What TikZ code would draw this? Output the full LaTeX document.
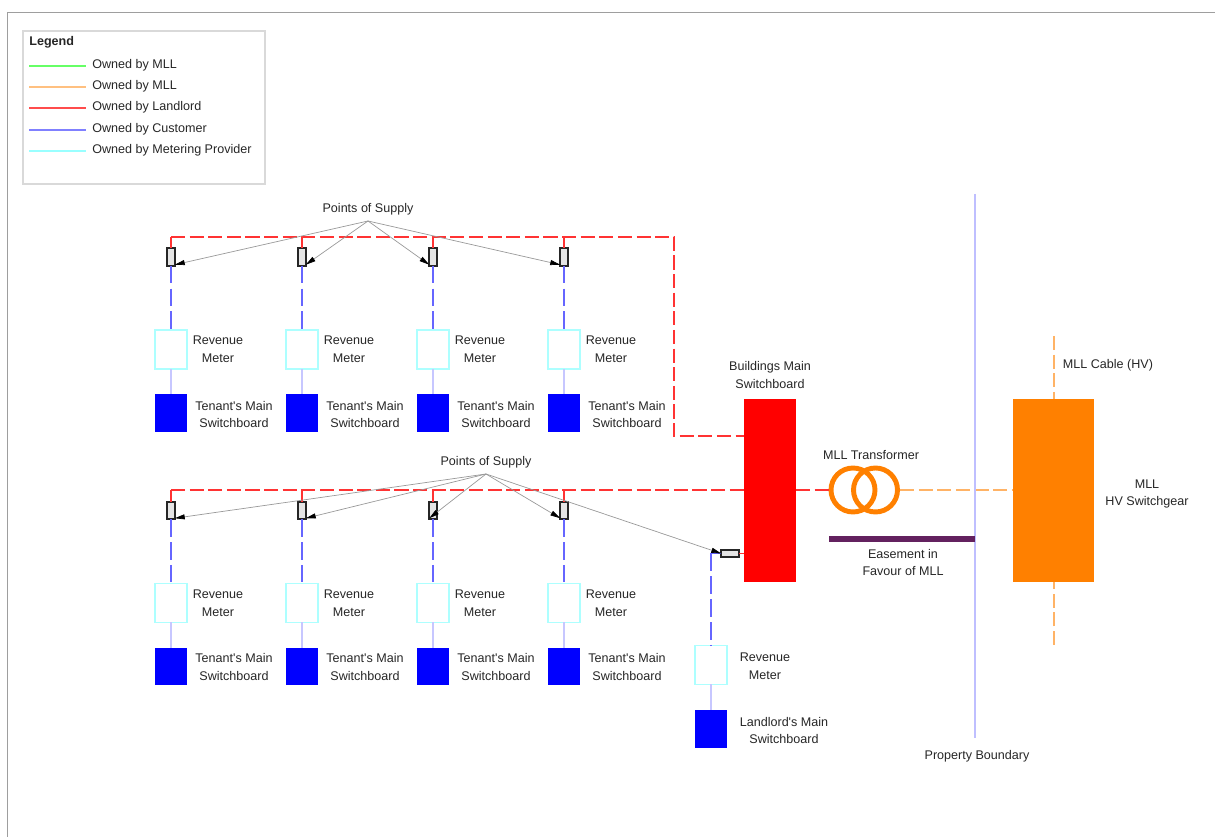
\documentclass[tikz,border=0pt]{standalone}
\usepackage{fontspec}
\setmainfont{Liberation Sans}
\usetikzlibrary{arrows.meta, calc}

\definecolor{hvorange}{HTML}{FF8000}
\definecolor{easepurple}{HTML}{63215F}
\definecolor{meterline}{HTML}{99FFFF}
\definecolor{mllgreen}{HTML}{66FF66}
\tikzset{
  txt/.style={align=center, inner sep=0pt, text=black!85, font=\fontsize{7.15}{10.2}\selectfont},
  meterbox/.style={draw=meterline!80, line width=0.6pt, fill=white, minimum width=0.64cm, minimum height=0.78cm, inner sep=0pt, outer sep=0pt},
  tenantbox/.style={fill=blue, minimum width=0.64cm, minimum height=0.76cm, inner sep=0pt, outer sep=0pt},
  switchv/.style={draw=black!85, line width=0.9pt, fill=black!10, minimum width=0.15cm, minimum height=0.35cm, inner sep=0pt, outer sep=0pt},
  switchh/.style={draw=black!85, line width=0.9pt, fill=black!10, minimum width=0.35cm, minimum height=0.15cm, inner sep=0pt, outer sep=0pt},
  redline/.style={draw=red!80, line width=0.6pt},
  reddash/.style={redline, dash pattern=on 8pt off 2.6pt},
  bluedash/.style={draw=blue!60, line width=0.9pt, dash pattern=on 10pt off 3pt},
  blueline/.style={draw=blue!22, line width=1pt},
  orangedash/.style={draw=hvorange!60, line width=0.7pt, dash pattern=on 8pt off 2.6pt},
  leader/.style={draw=black!40, line width=0.4pt, -{Triangle[black, length=0.2cm, width=0.1cm]}},
}

\begin{document}
\begin{tikzpicture}[x=0.02cm, y=-0.02cm]
  \useasboundingbox (0,0) rectangle (1215,837);
  % page frame
  \draw[black!38, line width=0.6pt] (7.5,837) -- (7.5,12.5) -- (1215,12.5);

  % Legend
  \node[draw=black!15, line width=0.8pt, minimum width=4.84cm, minimum height=3.06cm, outer sep=0pt] (legendbox) at (144,107.5) {};
  \node[txt, anchor=west, font=\fontsize{7.15}{10.2}\selectfont\bfseries] (legendtitle) at (29,42) {Legend};
  \foreach \n/\yy/\ly/\lbl/\col/\lw in {1/65/66/Owned by MLL/mllgreen/0.8pt, 2/86/87/Owned by MLL/hvorange!50/0.6pt, 3/107.5/108/Owned by Landlord/red!70/0.6pt, 4/129/130/Owned by Customer/blue!50/0.8pt, 5/150/151/Owned by Metering Provider/meterline/0.7pt} {
    \coordinate (legstart\n) at (29,\ly);
    \node[txt, anchor=west, inner xsep=0.12cm] (legtext\n) at (86,\yy) {\lbl};
    \draw[\col, line width=\lw] (legstart\n) -- (legstart\n -| legtext\n.west);
  }

  % Main switchboard and HV side
  \node[fill=red, minimum width=1.04cm, minimum height=3.66cm, inner sep=0pt, outer sep=0pt] (mainsb) at (770,490.5) {};
  \node[txt] (mainsblabel) at (770,375) {Buildings Main\\Switchboard};
  \node[fill=hvorange, minimum width=1.62cm, minimum height=3.66cm, inner sep=0pt, outer sep=0pt] (hvgear) at (1053.5,490.5) {};
  \node[txt] (hvgearlabel) at (1147,494) {MLL\\HV Switchgear};
  \node[txt] (cablelabel) at (1108,365.5) {MLL Cable (HV)};
  \coordinate (cabletop) at (1054,336);
  \coordinate (cablebot) at (1054,645);
  \draw[orangedash] (cabletop) -- (cabletop |- hvgear.north);
  \draw[orangedash] (cablebot) -- (cablebot |- hvgear.south);

  % Transformer
  \node[draw=hvorange, circle, line width=2.8pt, minimum size=0.88cm, inner sep=0pt, outer sep=1.4pt] (txleft) at (853,490) {};
  \node[draw=hvorange, circle, line width=2.8pt, minimum size=0.88cm, inner sep=0pt, outer sep=1.4pt] (txright) at (875.5,490) {};
  \node[txt] (txlabel) at (871,455.5) {MLL Transformer};
  \draw[reddash] (txleft.west -| mainsb.east) -- (txleft.west);
  \draw[orangedash] (txright.east) -- (txright.east -| hvgear.west);

  % Boundary and easement
  \coordinate (boundtop) at (975,194);
  \coordinate (boundbot) at (975,738);
  \draw[blue!25, line width=0.6pt] (boundtop) -- (boundbot);
  \node[txt] (boundlabel) at (977,756.5) {Property Boundary};
  \node[fill=easepurple, minimum width=2.92cm, minimum height=0.13cm, inner sep=0pt, outer sep=0pt] (easement) at (902,539) {};
  \node[txt] (easelabel) at (903,562.5) {Easement in\\Favour of MLL};

  % Tenant rows
  \coordinate (busA) at (674,237);
  \coordinate (feedA) at (674,436);
  \coordinate (busB) at (744,490);
  \foreach \r/\ys/\dy in {a/257/157.5, b/510.5/156.5} {
    \foreach \n/\xc in {1/171, 2/302, 3/433, 4/564} {
      \node[switchv] (sw\n\r) at (\xc,\ys) {};
      \node[meterbox] (rm\n\r) at (\xc,\ys+92.5) {};
      \node[tenantbox] (ts\n\r) at (\xc,\ys+156) {};
      \node[txt] (rmlabel\n\r) at (\xc+47,\ys+92.5) {Revenue\\Meter};
      \node[txt] (tslabel\n\r) at (\xc+63,\ys+\dy) {Tenant\textquotesingle s Main\\Switchboard};
      \draw[bluedash] (sw\n\r.south) -- (rm\n\r.north);
      \draw[blueline] (rm\n\r.south) -- (ts\n\r.north);
    }
  }
  % Feeders from the main switchboard
  \foreach \n in {1,2,3,4} {
    \draw[redline] (sw\n a.north) -- (sw\n a.north |- busA);
    \draw[redline] (sw\n b.north) -- (sw\n b.north |- busB);
  }
  \draw[reddash] (sw1a.north |- busA) -- (busA) -- (feedA) -- (feedA -| mainsb.west);
  \draw[reddash] (sw1b.north |- busB) -- (busB);

  % Landlord branch
  \node[switchh] (swl) at (730,553.5) {};
  \coordinate (corner) at (711,553.5);
  \node[meterbox] (rml) at (711,665) {};
  \node[tenantbox] (tsl) at (711,729) {};
  \node[txt] (rmllabel) at (765,666.5) {Revenue\\Meter};
  \node[txt] (tsllabel) at (784,730.5) {Landlord\textquotesingle s Main\\Switchboard};
  \draw[redline] (swl.east) -- (swl.east -| mainsb.west);
  \draw[draw=blue!60, line width=0.9pt] (swl.west) -- (corner);
  \draw[bluedash] (corner) -- (rml.north);
  \draw[blueline] (rml.south) -- (tsl.north);

  % Points of supply
  \node[txt] (posa) at (368,209.5) {Points of Supply};
  \node[txt] (posb) at (486,462.5) {Points of Supply};
  \coordinate (apexa) at (368,221);
  \coordinate (apexb) at (486,474);
  \foreach \r in {a,b} {
    \draw[leader] (apex\r) -- ([yshift=0.02cm]sw1\r.south east);
    \draw[leader] (apex\r) -- ([yshift=0.02cm]sw2\r.south east);
    \draw[leader] (apex\r) -- ([yshift=0.02cm]sw3\r.south west);
    \draw[leader] (apex\r) -- ([yshift=0.02cm]sw4\r.south west);
  }
  \draw[leader] (apexb) -- (swl.west);
\end{tikzpicture}
\end{document}
